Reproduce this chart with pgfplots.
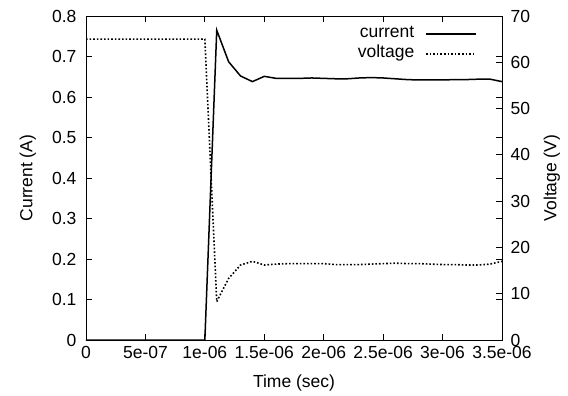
\documentclass[border=0pt]{standalone}
\usepackage{fontspec}
\setmainfont{Liberation Sans}
\usepackage{pgfplots}
\pgfplotsset{compat=1.18}
\pgfplotstableread{
t I
0 0
1e-7 0
2e-7 0
3e-7 0
4e-7 0
5e-7 0
6e-7 0
7e-7 0
8e-7 0
9e-7 0
1.0e-6 0
1.1e-6 0.765
1.2e-6 0.687
1.3e-6 0.652
1.4e-6 0.638
1.5e-6 0.651
1.6e-6 0.646
1.7e-6 0.646
1.8e-6 0.646
1.9e-6 0.647
2.0e-6 0.646
2.1e-6 0.645
2.2e-6 0.645
2.3e-6 0.647
2.4e-6 0.648
2.5e-6 0.647
2.6e-6 0.645
2.7e-6 0.643
2.8e-6 0.642
2.9e-6 0.642
3.0e-6 0.642
3.1e-6 0.643
3.2e-6 0.643
3.3e-6 0.644
3.4e-6 0.644
3.5e-6 0.638
}\currenttab
\pgfplotstableread{
t V
0 65
1e-7 65
2e-7 65
3e-7 65
4e-7 65
5e-7 65
6e-7 65
7e-7 65
8e-7 65
9e-7 65
1.0e-6 65
1.1e-6 8.3
1.2e-6 13.3
1.3e-6 16.2
1.4e-6 17.0
1.5e-6 16.2
1.6e-6 16.4
1.7e-6 16.5
1.8e-6 16.5
1.9e-6 16.5
2.0e-6 16.5
2.1e-6 16.3
2.2e-6 16.3
2.3e-6 16.3
2.4e-6 16.4
2.5e-6 16.5
2.6e-6 16.6
2.7e-6 16.5
2.8e-6 16.5
2.9e-6 16.4
3.0e-6 16.3
3.1e-6 16.3
3.2e-6 16.2
3.3e-6 16.2
3.4e-6 16.4
3.5e-6 17.0
}\voltagetab
\begin{document}
\begin{tikzpicture}[font=\fontsize{17.5bp}{21bp}\selectfont]
\path[use as bounding box] (-86bp,-56bp) rectangle (482bp,340bp);
\pgfplotsset{
  common/.style={
    at={(0,0)}, anchor=south west, scale only axis,
    width=416bp, height=324bp,
    xmin=0, xmax=3.5e-6, scaled x ticks=false,
    tick align=inside, major tick length=6bp,
    axis line style={line width=0.8bp},
    every tick/.style={black, line width=0.8bp},
    /pgf/number format/assume math mode=true,
    legend image code/.code={\draw[#1] (0bp,0bp) -- (50bp,0bp);},
  }
}
\begin{axis}[common,
  ymin=0, ymax=0.8,
  xtick={0,5e-7,1e-6,1.5e-6,2e-6,2.5e-6,3e-6,3.5e-6},
  xticklabels={0,5e-07,1e-06,1.5e-06,2e-06,2.5e-06,3e-06,3.5e-06},
  ytick={0,0.1,0.2,0.3,0.4,0.5,0.6,0.7,0.8},
  yticklabels={0,0.1,0.2,0.3,0.4,0.5,0.6,0.7,0.8},
  xtick pos=both, ytick pos=both,
  xticklabel style={yshift=-3bp},
  yticklabel style={xshift=-6bp},
  xlabel={Time (sec)}, ylabel={Current (A)},
  xlabel style={at={(axis description cs:0.5,-0.133)}, anchor=center},
  ylabel style={at={(axis description cs:-0.14,0.5)}, anchor=center},
  legend plot pos=right, legend cell align=right,
  legend style={draw=none, fill=none, at={(0.94,0.973)}, anchor=north east, inner sep=0pt,
    row sep=2bp, column sep=10bp,
    nodes={inner sep=1bp, text height=12bp, text depth=4bp}},
]
\addplot[black, line width=1.5bp] table[x=t, y=I] {\currenttab};
\addlegendentry{current}
\addlegendimage{black, line width=1.6bp, dash pattern=on 1.6bp off 2bp}
\addlegendentry{voltage}
\end{axis}
\begin{axis}[common,
  ymin=0, ymax=70,
  axis y line*=right, axis x line=none,
  ytick={0,10,20,30,40,50,60,70},
  yticklabel style={xshift=5bp},
  ylabel={Voltage (V)},
  ylabel style={at={(axis description cs:1.12,0.5)}, anchor=center},
]
\addplot[black, line width=1.6bp, dash pattern=on 1.6bp off 2bp] table[x=t, y=V] {\voltagetab};
\end{axis}
\end{tikzpicture}
\end{document}
